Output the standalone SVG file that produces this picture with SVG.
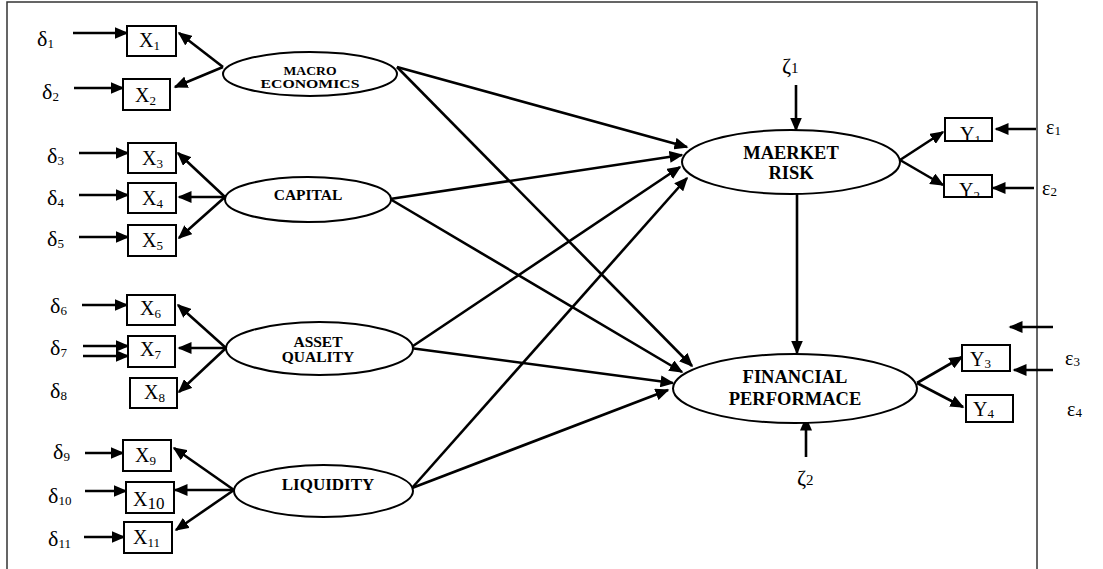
<svg xmlns="http://www.w3.org/2000/svg" width="1103" height="569" viewBox="0 0 1103 569">
<defs>
<marker id="ah" markerUnits="userSpaceOnUse" markerWidth="16" markerHeight="12" refX="12.5" refY="6" orient="auto">
<path d="M0,0 L14,6 L0,12 Z" fill="#000"/>
</marker>
<clipPath id="cy1"><rect x="945" y="118" width="47" height="23"/></clipPath>
<clipPath id="cy2"><rect x="944" y="175" width="48" height="22"/></clipPath>
</defs>
<style>
.box{fill:#fff;stroke:#000;stroke-width:2}
.lat{fill:#fff;stroke:#000;stroke-width:2}
.c line{stroke:#000;stroke-width:2.6;marker-end:url(#ah)}
.t{font-family:"Liberation Serif",serif;fill:#000}
.x{font-size:20px}
.g{font-size:22px}
.s{font-size:13px}
.lb{font-family:"Liberation Serif",serif;font-weight:bold;fill:#000;text-anchor:middle}
</style>
<rect x="7" y="2" width="1030" height="580" fill="#fff" stroke="#333" stroke-width="1.5"/>

<g class="c" id="connectors">
<line x1="73" y1="33" x2="127" y2="33"/>
<line x1="74" y1="88" x2="123" y2="88"/>
<line x1="79" y1="153" x2="128" y2="153"/>
<line x1="79" y1="195" x2="128" y2="195"/>
<line x1="79" y1="237" x2="128" y2="237"/>
<line x1="82" y1="305" x2="127" y2="305"/>
<line x1="83" y1="346" x2="128" y2="346"/>
<line x1="83" y1="356" x2="128" y2="356"/>
<line x1="85" y1="453" x2="123" y2="453"/>
<line x1="85" y1="491" x2="126" y2="491"/>
<line x1="84" y1="537" x2="124" y2="537"/>
<line x1="223" y1="67" x2="179" y2="33"/>
<line x1="223" y1="67" x2="175" y2="87"/>
<line x1="225" y1="197" x2="178" y2="153"/>
<line x1="225" y1="197" x2="179" y2="197"/>
<line x1="225" y1="197" x2="179" y2="238"/>
<line x1="226" y1="348" x2="178" y2="305"/>
<line x1="226" y1="348" x2="179" y2="348"/>
<line x1="226" y1="348" x2="179" y2="392"/>
<line x1="234" y1="490" x2="174" y2="448"/>
<line x1="234" y1="490" x2="175" y2="490"/>
<line x1="234" y1="490" x2="176" y2="530"/>
<line x1="397" y1="67" x2="687" y2="147"/>
<line x1="390" y1="199" x2="682" y2="155"/>
<line x1="410" y1="348" x2="680" y2="167"/>
<line x1="412" y1="488" x2="687" y2="178"/>
<line x1="397" y1="67" x2="692" y2="366"/>
<line x1="390" y1="199" x2="682" y2="372"/>
<line x1="410" y1="348" x2="673" y2="383"/>
<line x1="412" y1="488" x2="668" y2="390"/>
<line x1="797" y1="194" x2="797" y2="353"/>
<line x1="796" y1="85" x2="796" y2="130"/>
<line x1="806" y1="457" x2="806" y2="418"/>
<line x1="900" y1="160" x2="943" y2="132"/>
<line x1="900" y1="160" x2="943" y2="185"/>
<line x1="917" y1="383" x2="962" y2="357"/>
<line x1="917" y1="383" x2="963" y2="407"/>
<line x1="1036" y1="129" x2="996" y2="129"/>
<line x1="1034" y1="188" x2="993" y2="188"/>
<line x1="1053" y1="327" x2="1010" y2="327"/>
<line x1="1053" y1="370" x2="1014" y2="370"/>
</g>

<g id="macro"><ellipse class="lat" cx="310" cy="74" rx="87" ry="22"/>
<text class="lb" x="310" y="75" font-size="13.5" textLength="53" lengthAdjust="spacingAndGlyphs">MACRO</text>
<text class="lb" x="310" y="88" font-size="13.5" textLength="99" lengthAdjust="spacingAndGlyphs">ECONOMICS</text></g>
<g id="capital"><ellipse class="lat" cx="308" cy="199.5" rx="83" ry="22.5"/>
<text class="lb" x="308" y="200" font-size="15.5">CAPITAL</text></g>
<g id="asset"><ellipse class="lat" cx="319.5" cy="348.5" rx="93.5" ry="26.5"/>
<text class="lb" x="318" y="347" font-size="15.5">ASSET</text>
<text class="lb" x="318" y="362" font-size="15.5">QUALITY</text></g>
<g id="liquidity"><ellipse class="lat" cx="323.5" cy="491" rx="89.5" ry="26"/>
<text class="lb" x="328" y="490" font-size="17">LIQUIDITY</text></g>
<g id="market"><ellipse class="lat" cx="791" cy="162" rx="109" ry="32"/>
<text class="lb" x="791" y="159" font-size="18.5">MAERKET</text>
<text class="lb" x="791" y="179" font-size="18.5">RISK</text></g>
<g id="finperf"><ellipse class="lat" cx="795" cy="388.5" rx="122" ry="34.5"/>
<text class="lb" x="795" y="383" font-size="18.5">FINANCIAL</text>
<text class="lb" x="795" y="405" font-size="18.5">PERFORMACE</text></g>

<g id="x1"><rect class="box" x="127" y="26" width="49" height="30"/><text class="t x" x="139" y="47">X<tspan class="s" dy="3">1</tspan></text></g>
<g id="x2"><rect class="box" x="123" y="79" width="47" height="31"/><text class="t x" x="135" y="102">X<tspan class="s" dy="3">2</tspan></text></g>
<g id="x3"><rect class="box" x="128" y="143" width="48" height="30"/><text class="t x" x="142" y="165">X<tspan class="s" dy="3">3</tspan></text></g>
<g id="x4"><rect class="box" x="128" y="183" width="48" height="30"/><text class="t x" x="142" y="205">X<tspan class="s" dy="3">4</tspan></text></g>
<g id="x5"><rect class="box" x="128" y="225" width="48" height="31"/><text class="t x" x="142" y="247">X<tspan class="s" dy="3">5</tspan></text></g>
<g id="x6"><rect class="box" x="127" y="295" width="48" height="30"/><text class="t x" x="140" y="315">X<tspan class="s" dy="3">6</tspan></text></g>
<g id="x7"><rect class="box" x="128" y="336" width="47" height="31"/><text class="t x" x="140" y="356">X<tspan class="s" dy="3">7</tspan></text></g>
<g id="x8"><rect class="box" x="130" y="378" width="47" height="30"/><text class="t x" x="144" y="399">X<tspan class="s" dy="3">8</tspan></text></g>
<g id="x9"><rect class="box" x="123" y="440" width="48" height="31"/><text class="t x" x="135" y="462">X<tspan class="s" dy="3">9</tspan></text></g>
<g id="x10"><rect class="box" x="126" y="482" width="48" height="31"/><text class="t x" x="133" y="506">X<tspan font-size="17" dy="3">10</tspan></text></g>
<g id="x11"><rect class="box" x="124" y="522" width="48" height="31"/><text class="t x" x="133" y="544">X<tspan class="s" dy="3">11</tspan></text></g>

<g id="y1"><rect class="box" x="945" y="118" width="47" height="23"/><text class="t x" x="960" y="141" clip-path="url(#cy1)">Y<tspan class="s" dy="3">1</tspan></text></g>
<g id="y2"><rect class="box" x="944" y="175" width="48" height="22"/><text class="t x" x="959" y="197" clip-path="url(#cy2)">Y<tspan class="s" dy="3">2</tspan></text></g>
<g id="y3"><rect class="box" x="962" y="345" width="48" height="26"/><text class="t x" x="970" y="366">Y<tspan class="s" dy="2">3</tspan></text></g>
<g id="y4"><rect class="box" x="966" y="395" width="47" height="27"/><text class="t x" x="973" y="416">Y<tspan class="s" dy="2">4</tspan></text></g>

<g id="errors">
<text class="t g" x="37" y="46">δ<tspan class="s" dy="2">1</tspan></text>
<text class="t g" x="42" y="99">δ<tspan class="s" dy="2">2</tspan></text>
<text class="t g" x="47" y="163">δ<tspan class="s" dy="2">3</tspan></text>
<text class="t g" x="47" y="205">δ<tspan class="s" dy="2">4</tspan></text>
<text class="t g" x="47" y="246">δ<tspan class="s" dy="2">5</tspan></text>
<text class="t g" x="50" y="313">δ<tspan class="s" dy="2">6</tspan></text>
<text class="t g" x="50" y="355">δ<tspan class="s" dy="2">7</tspan></text>
<text class="t g" x="50" y="398">δ<tspan class="s" dy="2">8</tspan></text>
<text class="t g" x="53" y="459">δ<tspan class="s" dy="2">9</tspan></text>
<text class="t g" x="48" y="503">δ<tspan class="s" dy="2">10</tspan></text>
<text class="t g" x="48" y="546">δ<tspan class="s" dy="2">11</tspan></text>
<text class="t" font-size="20" x="1046" y="134">ε<tspan class="s" dy="1">1</tspan></text>
<text class="t" font-size="20" x="1042" y="195">ε<tspan class="s" dy="1">2</tspan></text>
<text class="t" font-size="20" x="1065" y="365">ε<tspan class="s" dy="1">3</tspan></text>
<text class="t" font-size="20" x="1067" y="416">ε<tspan class="s" dy="1">4</tspan></text>
<text class="t" font-size="22" x="782" y="73">ζ<tspan font-size="15">1</tspan></text>
<text class="t" font-size="22" x="797" y="485">ζ<tspan font-size="15">2</tspan></text>
</g>
</svg>
